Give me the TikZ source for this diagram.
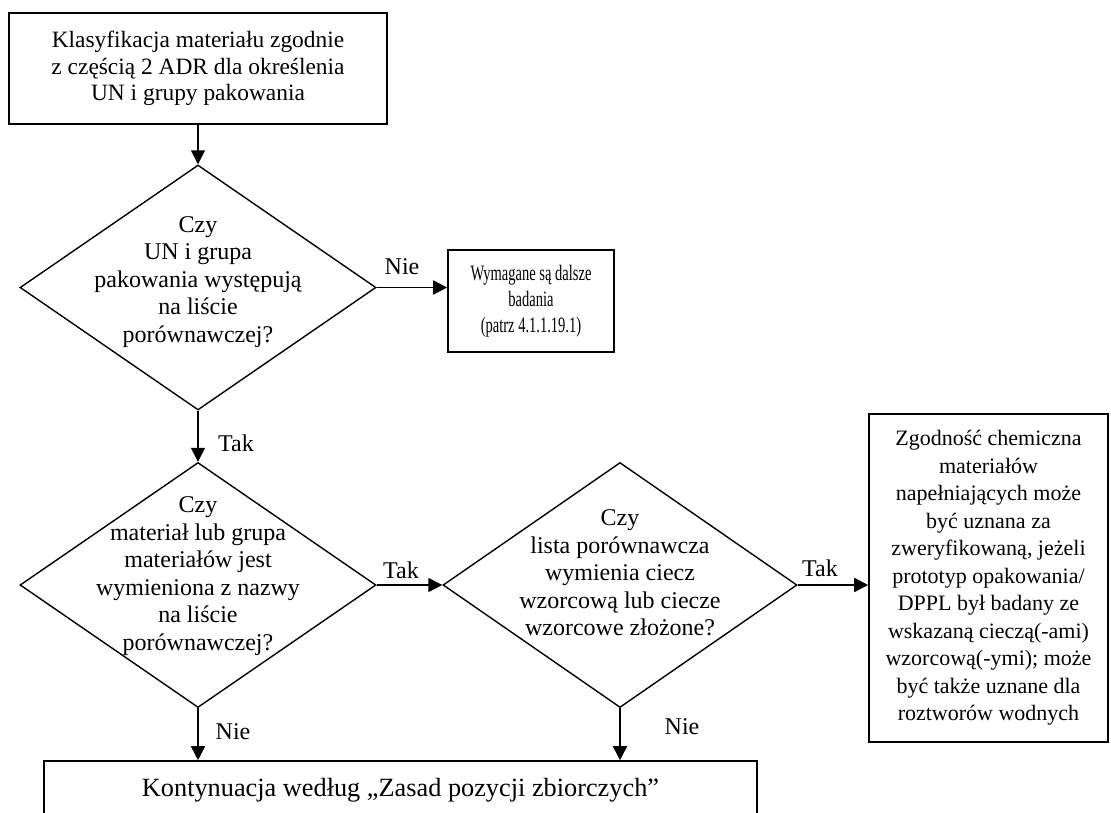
\documentclass[tikz,border=0pt]{standalone}
\usepackage{fontspec}
\setmainfont{Liberation Serif}
\newfontfamily\narrowserif[FakeStretch=0.66]{Liberation Serif}
\usetikzlibrary{shapes.geometric, arrows.meta}

\begin{document}
\begin{tikzpicture}[x=1pt, y=-1pt,
    every node/.style={font=\fontsize{24}{27.5}\selectfont},
    box/.style={rectangle, draw, line width=1.6pt, align=center},
    decision/.style={diamond, draw, line width=1.4pt, inner sep=0pt, minimum width=356pt, minimum height=245pt},
    question/.style={align=center},
    flow/.style={line width=1.6pt, -{Triangle[length=14pt, width=14pt]}}]
    \useasboundingbox (0,0) rectangle (1111,812);
    \clip (0,0) rectangle (1111,812);

    % Define nodes
    \node (klas) at (198,68.5) [box, minimum width=378pt, minimum height=111pt, font=\fontsize{23.4}{26.5}\selectfont] {Klasyfikacja materiału zgodnie\\z częścią 2 ADR dla określenia\\UN i grupy pakowania};
    \node (d1) at (198,287.5) [decision] {};
    \node (q1) at (198,282) [question] {Czy\\UN i grupa\\pakowania występują\\na liście\\porównawczej?};
    \node (dalsze) at (531,301) [box, minimum width=166pt, minimum height=102pt, font=\narrowserif\fontsize{22}{26}\selectfont] {Wymagane są dalsze\\badania\\(patrz 4.1.1.19.1)};
    \node (d2) at (198,585) [decision] {};
    \node (q2) at (198,576) [question] {Czy\\materiał lub grupa\\materiałów jest\\wymieniona z nazwy\\na liście\\porównawczej?};
    \node (d3) at (620,585) [decision, minimum width=354pt] {};
    \node (q3) at (620,573) [question] {Czy\\lista porównawcza\\wymienia ciecz\\wzorcową lub ciecze\\wzorcowe złożone?};
    \node (zgod) at (988.5,578) [box, minimum width=239pt, minimum height=328pt, font=\fontsize{22}{27.5}\selectfont] {Zgodność chemiczna\\materiałów\\napełniających może\\być uznana za\\zweryfikowaną, jeżeli\\prototyp opakowania/\\DPPL był badany ze\\wskazaną cieczą(-ami)\\wzorcową(-ymi); może\\być także uznane dla\\roztworów wodnych};
    \node (kont) at (400.5,790) [box, minimum width=713pt, minimum height=58pt, font=\fontsize{26.3}{31}\selectfont] {Kontynuacja według „Zasad pozycji zbiorczych”};

    % Define labels
    \node (nie1) at (402,267) {Nie};
    \node (tak1) at (236,443) {Tak};
    \node (tak2) at (401,570) {Tak};
    \node (tak3) at (820,568) {Tak};
    \node (nie2) at (233,732) {Nie};
    \node (nie3) at (682,727) {Nie};

    % Draw arrows
    \draw[flow] (klas) -- (d1);
    \draw[flow] (d1.east) -- (d1.east -| dalsze.west);
    \draw[flow] (d1) -- (d2);
    \draw[flow] (d2.east) -- (d3.west);
    \draw[flow] (d3.east) -- (d3.east -| zgod.west);
    \draw[flow] (d2.south) -- (d2.south |- kont.north);
    \draw[flow] (d3.south) -- (d3.south |- kont.north);
\end{tikzpicture}
\end{document}
